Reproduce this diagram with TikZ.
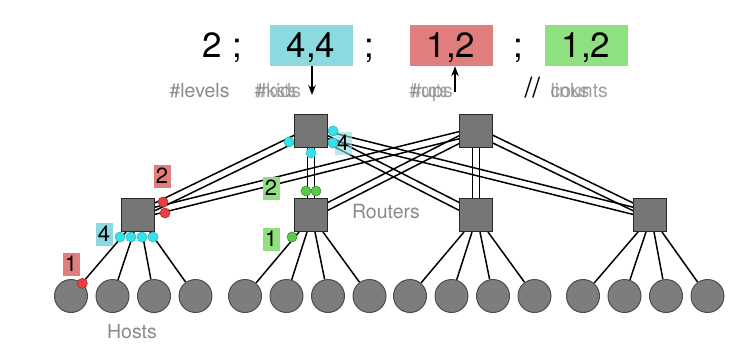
\documentclass[tikz,border=0pt]{standalone}
\usepackage{fontspec}
\setmainfont{TeX Gyre Heros}
\definecolor{boxcyan}{RGB}{138,218,224}
\definecolor{boxred}{RGB}{224,125,125}
\definecolor{boxgreen}{RGB}{143,224,128}
\definecolor{dotcyan}{RGB}{52,226,236}
\definecolor{dotred}{RGB}{232,64,64}
\definecolor{dotgreen}{RGB}{92,200,72}
\definecolor{nodegray}{RGB}{118,118,118}
\definecolor{labelgray}{RGB}{138,138,138}
\usetikzlibrary{arrows.meta, calc, backgrounds}

\begin{document}
\begin{tikzpicture}[x=1pt, y=-1pt,
  router/.style={rectangle, draw=black!85, fill=nodegray, line width=1pt, minimum size=33pt, inner sep=0pt},
  host/.style={circle, draw=black!70, fill=nodegray!95!white, line width=1pt, minimum size=33pt, inner sep=0pt},
  wire/.style={line width=1.5pt, black},
  port/.style={circle, inner sep=0pt, minimum size=10pt, line width=.6pt},
  tag/.style={inner sep=0pt, minimum width=17pt, minimum height=23pt, text height=15pt, text depth=0pt, font=\fontsize{22}{22}\selectfont},
  valbox/.style={inner sep=0pt, minimum width=83pt, minimum height=41pt},
  bignum/.style={anchor=base, font=\fontsize{35}{35}\selectfont},
  note/.style={anchor=base west, text=labelgray, font=\fontsize{19.5}{19.5}\selectfont}]
\useasboundingbox (0,0) rectangle (742,345);

% notation
\node[bignum] (lv) at (212,58) {2};
\node[bignum] (s1) at (237,58) {;};
\node[valbox, fill=boxcyan] (cbox) at (311,45.5) {};
\node[bignum] (cval) at (311,58) {4,4};
\node[bignum] (s2) at (369,58) {;};
\node[valbox, fill=boxred] (rbox) at (451,45.5) {};
\node[bignum] (rval) at (451,58) {1,2};
\node[bignum] (s3) at (518,58) {;};
\node[valbox, fill=boxgreen] (gbox) at (586,45.5) {};
\node[bignum] (gval) at (586,58) {1,2};

\node[note] (nlev) at (166,98) {\#levels};
\node[note, xscale=.72, transform shape, text opacity=.8] (nkid) at (252,98) {\#hosts};
\node[note, text opacity=.8] (nkid2) at (252,98) {\#kids};
\node[note, text opacity=.8] (nup) at (407,98) {\#ups};
\node[note, xscale=.7, transform shape, text opacity=.8] (nup2) at (407,98) {\#roots};
\node[note, font=\fontsize{28}{28}\selectfont, text=black] (nsl) at (521,98) {//};
\node[note, text opacity=.8] (ncnt) at (547,98) {counts};
\node[note, text opacity=.8] (nlnk) at (547,98) {links};

\coordinate (dn) at (312,95);
\coordinate (up) at (455,92);
\draw[-{Stealth[length=10pt,width=7.5pt]}, line width=1.2pt] (cbox.south -| dn) -- (dn);
\draw[-{Stealth[length=10pt,width=7.5pt]}, line width=1.2pt] (up) -- (rbox.south -| up);

% routers and hosts
\node[router] (t1) at (311,131) {};
\node[router] (t2) at (476,131) {};
\node[router] (b1) at (138,215) {};
\node[router] (b2) at (311,215) {};
\node[router] (b3) at (476,215) {};
\node[router] (b4) at (650,215) {};
\foreach \g/\x in {1/71,2/245,3/410,4/583}
  \foreach \i in {1,...,4}
    \node[host] (h\g\i) at ({\x+41.5*(\i-1)},296) {};

\node[note, anchor=base] (nrout) at (386,218) {Routers};
\node[note, anchor=base] (nhost) at (132,338) {Hosts};

\begin{scope}[on background layer]
\foreach \b in {b1,b2,b3,b4}
  \foreach \t in {t1,t2}
    \foreach \s in {-3.5pt,3.5pt}
      \draw[wire] ($(\b)!\s!90:(\t)$) -- ($(\t)!\s!-90:(\b)$);
\foreach \g in {1,...,4}
  \foreach \i/\dx in {1/-12,2/-4,3/4,4/12}
    \draw[wire] ($(b\g.south)+(\dx,0)$) -- (h\g\i);
\end{scope}

% ports and counts
\node[tag, fill=boxcyan, fill opacity=.6, text opacity=1] (tc2) at (343,143) {4};
\foreach \dx/\dy [count=\k] in {-22/11,0/22,22/0,22/12}
  \node[port, draw=dotcyan!80!black, fill=dotcyan] (tp\k) at ($(t1)+(\dx,\dy)$) {};
\foreach \dx [count=\k] in {-18,-7,4,15}
  \node[port, draw=dotcyan!80!black, fill=dotcyan] (bp\k) at ($(b1)+(\dx,22)$) {};
\node[port, draw=dotred!70!black, fill=dotred] (rp1) at ($(b1)+(25,-13)$) {};
\node[port, draw=dotred!70!black, fill=dotred] (rp2) at ($(b1)+(27,-2)$) {};
\node[port, draw=dotred!70!black, fill=dotred] (rp3) at (h11.48) {};
\node[port, draw=dotgreen!70!black, fill=dotgreen] (gp1) at ($(b2)+(-5,-24)$) {};
\node[port, draw=dotgreen!70!black, fill=dotgreen] (gp2) at ($(b2)+(5,-24)$) {};
\node[port, draw=dotgreen!70!black, fill=dotgreen] (gp3) at ($(b2)+(-19,22)$) {};

\node[tag, fill=boxred] (tr2) at (162,176) {2};
\node[tag, fill=boxcyan] (tc1) at (104,234) {4};
\node[tag, fill=boxred] (tr1) at (71,264) {1};
\node[tag, fill=boxgreen] (tg2) at (271,188) {2};
\node[tag, fill=boxgreen] (tg1) at (271,239) {1};
\end{tikzpicture}
\end{document}
